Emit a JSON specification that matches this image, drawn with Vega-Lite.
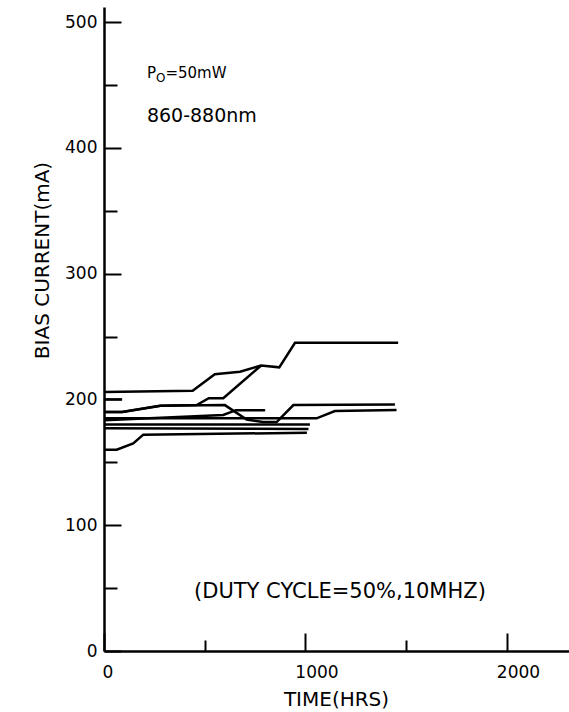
{
  "$schema": "https://vega.github.io/schema/vega-lite/v6.json",
  "width": 465,
  "height": 644,
  "autosize": {"type": "none"},
  "padding": {"left": 104, "top": 7, "right": 0, "bottom": 61},
  "background": "white",
  "config": {
    "view": {"stroke": null},
    "font": "DejaVu Sans",
    "axis": {
      "domainColor": "black",
      "domainWidth": 2.5,
      "tickColor": "black",
      "tickWidth": 2,
      "grid": false,
      "labelFont": "DejaVu Sans",
      "labelColor": "black",
      "labelFontSize": 17,
      "labelFontWeight": "normal",
      "titleFont": "DejaVu Sans",
      "titleColor": "black",
      "titleFontWeight": "normal",
      "titleFontSize": 20
    }
  },
  "datasets": {
    "lines": [
      {"s": "A", "t": 0, "i": 206}, {"s": "A", "t": 440, "i": 207}, {"s": "A", "t": 550, "i": 220}, {"s": "A", "t": 675, "i": 222}, {"s": "A", "t": 780, "i": 227}, {"s": "A", "t": 870, "i": 225.5}, {"s": "A", "t": 948, "i": 245}, {"s": "A", "t": 1460, "i": 245},
      {"s": "B", "t": 0, "i": 190}, {"s": "B", "t": 90, "i": 190}, {"s": "B", "t": 280, "i": 195}, {"s": "B", "t": 460, "i": 195.5}, {"s": "B", "t": 520, "i": 201}, {"s": "B", "t": 592, "i": 201}, {"s": "B", "t": 780, "i": 227},
      {"s": "C", "t": 0, "i": 190}, {"s": "C", "t": 90, "i": 190}, {"s": "C", "t": 280, "i": 195}, {"s": "C", "t": 600, "i": 195.5}, {"s": "C", "t": 708, "i": 184}, {"s": "C", "t": 790, "i": 182}, {"s": "C", "t": 857, "i": 182}, {"s": "C", "t": 940, "i": 195.5}, {"s": "C", "t": 1444, "i": 196},
      {"s": "D", "t": 0, "i": 183.5}, {"s": "D", "t": 592, "i": 187.6}, {"s": "D", "t": 655, "i": 191.5}, {"s": "D", "t": 800, "i": 191.5},
      {"s": "E", "t": 0, "i": 185}, {"s": "E", "t": 1055, "i": 185}, {"s": "E", "t": 1146, "i": 190.8}, {"s": "E", "t": 1452, "i": 191.6},
      {"s": "F", "t": 0, "i": 200}, {"s": "F", "t": 90, "i": 200},
      {"s": "G", "t": 0, "i": 160}, {"s": "G", "t": 63, "i": 160}, {"s": "G", "t": 145, "i": 165}, {"s": "G", "t": 195, "i": 172}, {"s": "G", "t": 1007, "i": 173.5},
      {"s": "H", "t": 0, "i": 180}, {"s": "H", "t": 1022, "i": 180},
      {"s": "I", "t": 0, "i": 177}, {"s": "I", "t": 1015, "i": 176.5}
    ],
    "notes": [
      {"t": 213, "i": 455.5, "txt": "P"},
      {"t": 305, "i": 455.5, "txt": "=50mW"}
    ],
    "subs": [
      {"t": 258, "i": 452, "txt": "O"}
    ],
    "big": [
      {"t": 213, "i": 420.5, "txt": "860-880nm"}
    ],
    "duty": [
      {"t": 1171, "i": 42, "txt": "(DUTY CYCLE=50%,10MHZ)"}
    ]
  },
  "layer": [
    {
      "data": {"name": "lines"},
      "mark": {"type": "line", "color": "black", "strokeWidth": 2.5, "clip": true},
      "encoding": {
        "x": {
          "field": "t", "type": "quantitative",
          "scale": {"domain": [0, 2308], "nice": false, "zero": false},
          "axis": {
            "title": "TIME(HRS)",
            "values": [0, 500, 1000, 1500, 2000],
            "format": "d",
            "labelExpr": "datum.value % 1000 === 0 ? datum.label : ''",
            "tickSize": {"condition": {"test": "datum.value % 1000 === 0", "value": -18}, "value": -11},
            "labelPadding": 31,
            "labelOffset": {"condition": {"test": "datum.value > 0", "value": 11}, "value": -2},
            "titleY": 48,
            "titleX": 232,
            "titleAlign": "center",
            "titleBaseline": "middle"
          }
        },
        "y": {
          "field": "i", "type": "quantitative",
          "scale": {"domain": [0, 512], "nice": false},
          "axis": {
            "title": "BIAS CURRENT(mA)",
            "values": [0, 50, 100, 150, 200, 250, 300, 350, 400, 450, 500],
            "labelExpr": "datum.value % 100 === 0 ? datum.label : ''",
            "tickSize": {"condition": {"test": "datum.value % 100 === 0", "value": -17}, "value": -13},
            "labelPadding": 24,
            "titleAngle": -90,
            "titleX": -62,
            "titleY": 253,
            "titleAlign": "center",
            "titleBaseline": "middle"
          }
        },
        "detail": {"field": "s"}
      }
    },
    {
      "data": {"name": "notes"},
      "mark": {"type": "text", "align": "left", "baseline": "alphabetic", "fontSize": 15, "font": "DejaVu Sans", "color": "black"},
      "encoding": {
        "x": {"field": "t", "type": "quantitative"},
        "y": {"field": "i", "type": "quantitative"},
        "text": {"field": "txt"}
      }
    },
    {
      "data": {"name": "subs"},
      "mark": {"type": "text", "align": "left", "baseline": "alphabetic", "fontSize": 12, "font": "DejaVu Sans", "color": "black"},
      "encoding": {
        "x": {"field": "t", "type": "quantitative"},
        "y": {"field": "i", "type": "quantitative"},
        "text": {"field": "txt"}
      }
    },
    {
      "data": {"name": "big"},
      "mark": {"type": "text", "align": "left", "baseline": "alphabetic", "fontSize": 19, "font": "DejaVu Sans", "color": "black"},
      "encoding": {
        "x": {"field": "t", "type": "quantitative"},
        "y": {"field": "i", "type": "quantitative"},
        "text": {"field": "txt"}
      }
    },
    {
      "data": {"name": "duty"},
      "mark": {"type": "text", "align": "center", "baseline": "alphabetic", "fontSize": 21, "font": "DejaVu Sans", "color": "black"},
      "encoding": {
        "x": {"field": "t", "type": "quantitative"},
        "y": {"field": "i", "type": "quantitative"},
        "text": {"field": "txt"}
      }
    }
  ]
}
